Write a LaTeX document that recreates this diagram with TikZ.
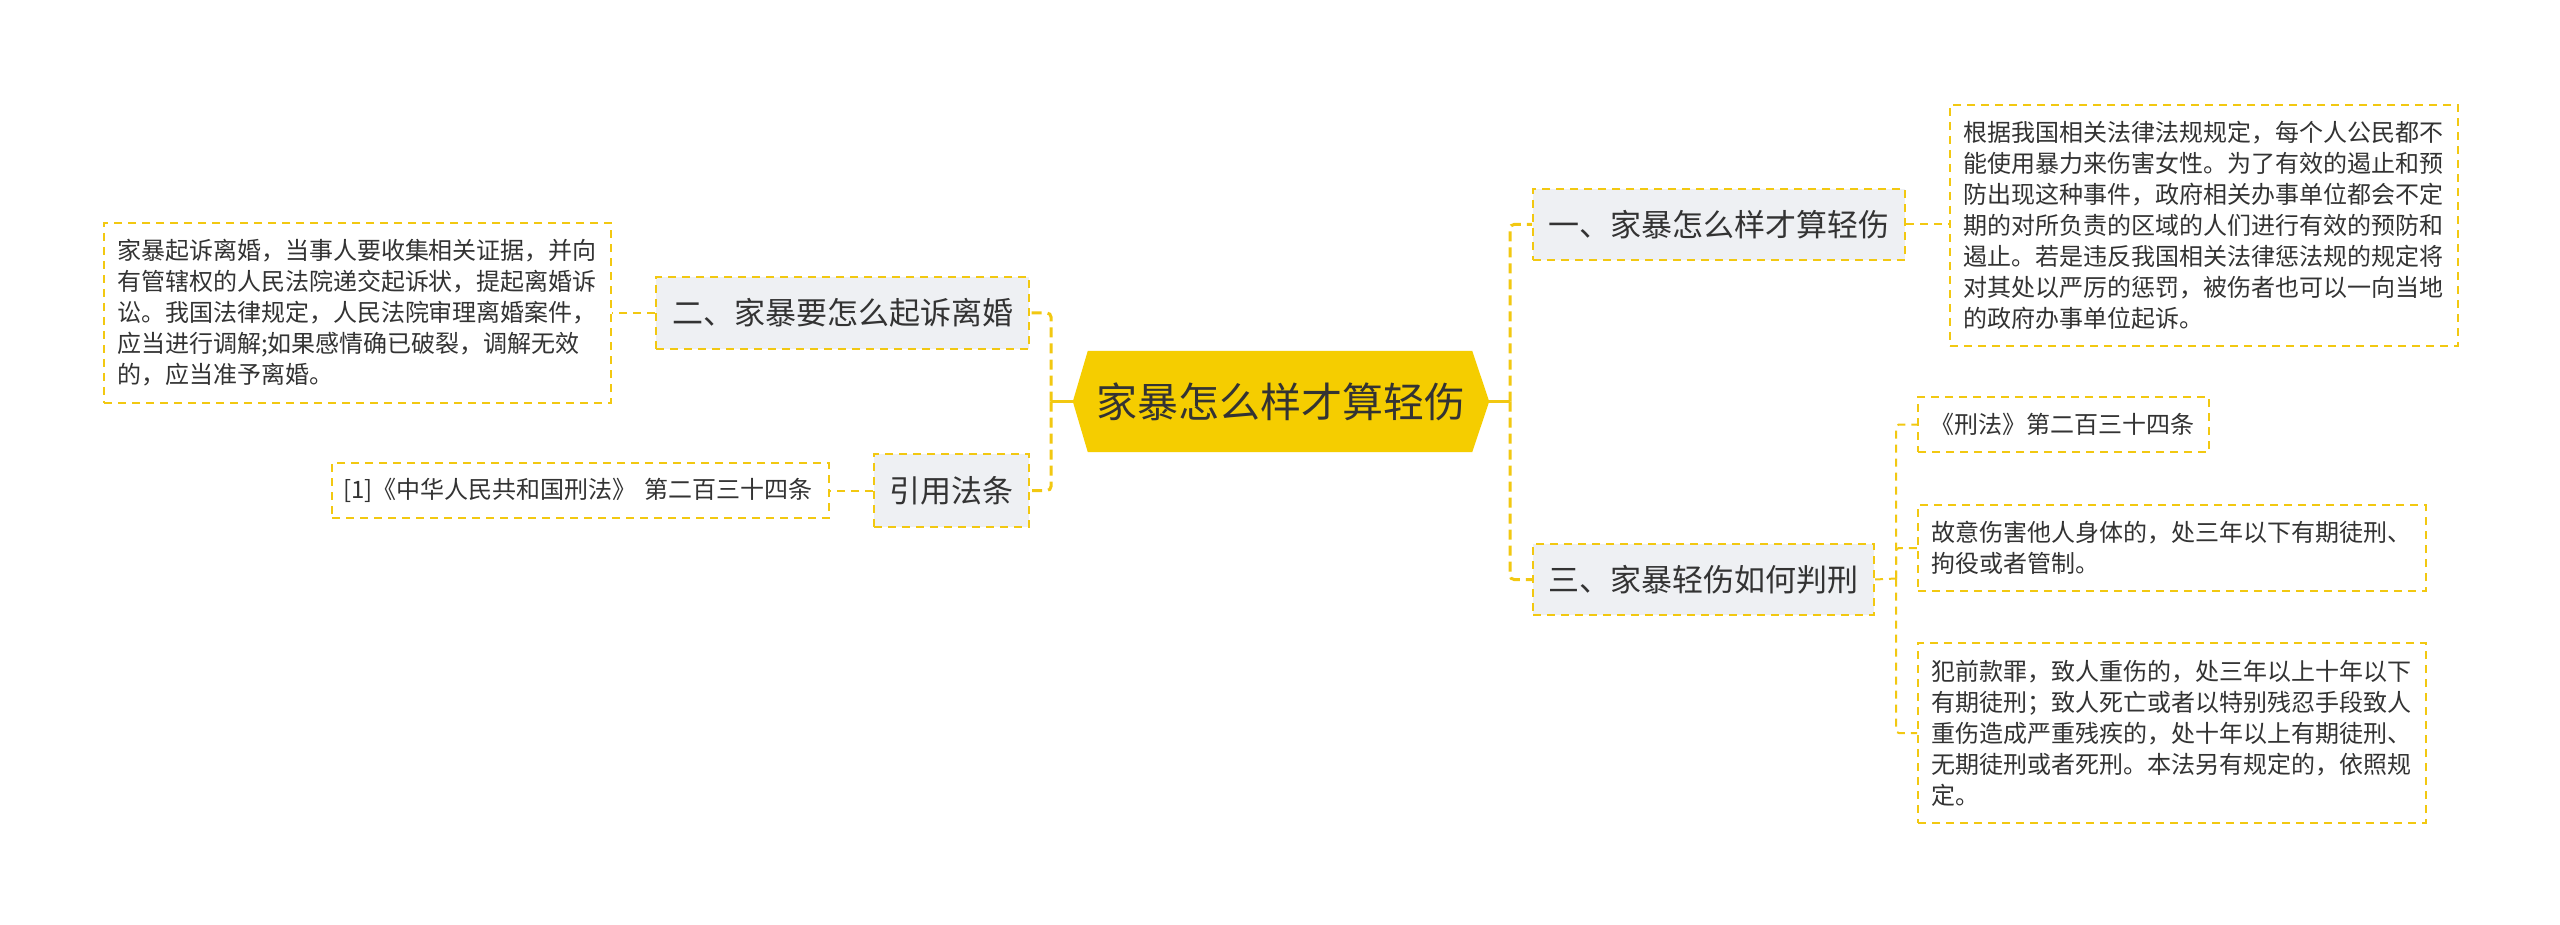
\documentclass[tikz,border=0pt]{standalone}
\usepackage{fontspec}
\setmainfont{Noto Sans CJK SC}
\usetikzlibrary{backgrounds}
\definecolor{ylw}{RGB}{242,200,17}
\definecolor{cfill}{RGB}{245,205,0}
\definecolor{gfill}{RGB}{238,240,243}
\definecolor{txt}{RGB}{51,51,51}
\tikzset{
  box/.style={draw=ylw, line width=2pt, dash pattern=on 8pt off 6pt, inner sep=0pt, text=txt},
  branch/.style={box, fill=gfill, font=\fontsize{31}{36}\selectfont, anchor=north west},
  leaf/.style={box, fill=white, font=\fontsize{24}{31}\selectfont, align=left, anchor=north west, inner xsep=13pt},
  mainline/.style={draw=ylw, line width=3pt, dash pattern=on 10pt off 6pt, rounded corners=4pt},
  solidline/.style={draw=ylw, line width=3.5pt},
  leafline/.style={draw=ylw, line width=2pt, dash pattern=on 8pt off 6pt, rounded corners=3pt},
}
\begin{document}
\begin{tikzpicture}[x=1pt,y=-1pt]
\useasboundingbox (0,0) rectangle (2560,925);
\begin{pgfonlayer}{background}
\fill[white] (0,0) rectangle (2560,925);
\end{pgfonlayer}

% central
\node[minimum width=416pt, minimum height=101pt, inner sep=0pt, text=txt, font=\fontsize{41}{48}\selectfont] (c) at (1281,401.5) {家暴怎么样才算轻伤};
\begin{pgfonlayer}{background}
\fill[cfill] (c.west) -- ([xshift=15pt]c.north west) -- ([xshift=-17pt]c.north east) -- (c.east) -- ([xshift=-17pt]c.south east) -- ([xshift=15pt]c.south west) -- cycle;
\end{pgfonlayer}

% branches
\node[branch, minimum width=372pt, minimum height=71pt] (r1) at (1532,188) {一、家暴怎么样才算轻伤};
\node[branch, minimum width=341pt, minimum height=71pt] (r3) at (1532,543) {三、家暴轻伤如何判刑};
\node[branch, minimum width=373pt, minimum height=72pt] (l1) at (655,276) {二、家暴要怎么起诉离婚};
\node[branch, minimum width=155pt, minimum height=73pt] (l2) at (873,453) {引用法条};

% leaves
\node[leaf, text width=482pt, minimum height=241pt] (r1leaf) at (1949,104) {根据我国相关法律法规规定，每个人公民都不\\能使用暴力来伤害女性。为了有效的遏止和预\\防出现这种事件，政府相关办事单位都会不定\\期的对所负责的区域的人们进行有效的预防和\\遏止。若是违反我国相关法律惩法规的规定将\\对其处以严厉的惩罚，被伤者也可以一向当地\\的政府办事单位起诉。};
\node[leaf, inner xsep=12pt, text width=267pt, minimum height=55pt] (r3a) at (1917,396) {《刑法》第二百三十四条};
\node[leaf, text width=482pt, minimum height=86pt] (r3b) at (1917,504) {故意伤害他人身体的，处三年以下有期徒刑、\\拘役或者管制。};
\node[leaf, text width=482pt, minimum height=180pt] (r3c) at (1917,642) {犯前款罪，致人重伤的，处三年以上十年以下\\有期徒刑；致人死亡或者以特别残忍手段致人\\重伤造成严重残疾的，处十年以上有期徒刑、\\无期徒刑或者死刑。本法另有规定的，依照规\\定。};
\node[leaf, text width=481pt, minimum height=180pt] (l1leaf) at (103,222) {家暴起诉离婚，当事人要收集相关证据，并向\\有管辖权的人民法院递交起诉状，提起离婚诉\\讼。我国法律规定，人民法院审理离婚案件，\\应当进行调解;如果感情确已破裂，调解无效\\的，应当准予离婚。};
\node[leaf, inner xsep=11pt, text width=475pt, minimum height=55pt] (l2leaf) at (331,462) {[1]《中华人民共和国刑法》 第二百三十四条};

% connectors right
\coordinate (rt) at (1510,401.5);
\draw[solidline] (c.east) -- (rt);
\draw[mainline] (rt) |- (r1.west);
\draw[mainline] (rt) |- (r3.west);
\draw[leafline] (r1.east) -- (r1.east -| r1leaf.west);
\coordinate (st) at (1896,578.5);
\draw[leafline] (r3.east) -- (st);
\draw[leafline] (st) |- (r3a.west);
\draw[leafline] (st) |- (r3b.west);
\draw[leafline] (st) |- (r3c.west);

% connectors left
\coordinate (lt) at (1051,401.5);
\draw[solidline] (c.west) -- (lt);
\draw[mainline] (lt) |- (l1.east);
\draw[mainline] (lt) |- (l2.east);
\draw[leafline] (l1.west) -- (l1.west -| l1leaf.east);
\draw[leafline] (l2.west) -- (l2.west -| l2leaf.east);
\end{tikzpicture}
\end{document}
